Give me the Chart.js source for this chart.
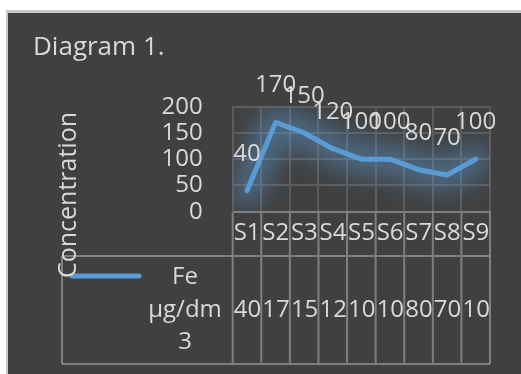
<!DOCTYPE html>
<html>
<head>
<meta charset="utf-8">
<script src="https://cdn.jsdelivr.net/npm/chart.js@4"></script>
<style>
  html, body { margin: 0; padding: 0; background: #ffffff; }
  #wrap { position: relative; width: 521px; height: 374px; }
</style>
</head>
<body>
<div id="wrap"><canvas id="chart" width="521" height="374"></canvas></div>
<script>
// Sample labels, measured Fe concentrations and axis ticks
const categories = ['S1', 'S2', 'S3', 'S4', 'S5', 'S6', 'S7', 'S8', 'S9'];
const feValues = [40, 170, 150, 120, 100, 100, 80, 70, 100];
const yTickValues = [0, 50, 100, 150, 200];
const seriesName = 'Fe µg/dm3';
const seriesLegendLines = ['Fe', 'µg/dm', '3'];
const chartTitle = 'Diagram 1.';
const yAxisTitle = 'Concentration';

const TEXT = '#d9d9d9';
const BG = '#404040';
const GRID = '#5c5c5c';
const TABLE_LINE = '#7f7f7f';
const BLUE = '#5b9bd5';
const FONT = 'Open Sans';

Chart.defaults.font.family = FONT;
Chart.defaults.color = TEXT;

// Page frame and dark panel behind the chart
const framePlugin = {
  id: 'frame',
  beforeDraw(chart) {
    const ctx = chart.ctx;
    ctx.save();
    ctx.fillStyle = '#ffffff';
    ctx.fillRect(0, 0, chart.width, chart.height);
    ctx.fillStyle = '#c8c8c8';
    ctx.fillRect(6, 10, chart.width - 6, chart.height - 10);
    ctx.fillStyle = BG;
    ctx.fillRect(8, 13, chart.width - 8, chart.height - 13);
    ctx.restore();
  }
};

// Soft blue glow under the line, traced through the dataset's own points,
// blurred off-screen and then kept inside the plot area
const glowPlugin = {
  id: 'glow',
  beforeDatasetsDraw(chart) {
    const ctx = chart.ctx;
    const a = chart.chartArea;
    const pts = chart.getDatasetMeta(0).data;
    const off = document.createElement('canvas');
    off.width = chart.width;
    off.height = chart.height;
    const g = off.getContext('2d');
    g.filter = 'blur(13px)';
    g.strokeStyle = 'rgba(91,155,213,0.5)';
    g.lineWidth = 30;
    g.lineCap = 'round';
    g.lineJoin = 'round';
    g.beginPath();
    pts.forEach((p, i) => (i ? g.lineTo(p.x, p.y) : g.moveTo(p.x, p.y)));
    g.stroke();
    ctx.save();
    ctx.beginPath();
    ctx.rect(a.left, a.top, a.right - a.left, a.bottom - a.top);
    ctx.clip();
    ctx.drawImage(off, 0, 0);
    ctx.restore();
  }
};

// Value labels above each point
const valueLabelPlugin = {
  id: 'valueLabels',
  afterDatasetsDraw(chart) {
    const ctx = chart.ctx;
    const meta = chart.getDatasetMeta(0);
    ctx.save();
    ctx.font = '24px "' + FONT + '"';
    ctx.fillStyle = TEXT;
    ctx.textAlign = 'center';
    ctx.textBaseline = 'middle';
    meta.data.forEach((pt, i) => {
      ctx.fillText(String(chart.data.datasets[0].data[i]), pt.x, pt.y - 37);
    });
    ctx.restore();
  }
};

// Data table under the plot, with the legend key in its first cell
const dataTablePlugin = {
  id: 'dataTable',
  afterDraw(chart) {
    const ctx = chart.ctx;
    const x = chart.scales.x;
    const area = chart.chartArea;
    const n = categories.length;
    const colW = x.getPixelForValue(1) - x.getPixelForValue(0);
    const edges = [];
    for (let i = 0; i <= n; i++) edges.push(x.getPixelForValue(0) - colW / 2 + i * colW);
    const top = area.bottom;
    const mid = 256;
    const bottom = 364;
    const legendLeft = 62;

    ctx.save();
    ctx.strokeStyle = TABLE_LINE;
    ctx.lineWidth = 2;
    ctx.beginPath();
    edges.forEach(e => { ctx.moveTo(e, top); ctx.lineTo(e, bottom); });
    ctx.moveTo(legendLeft, mid); ctx.lineTo(edges[n], mid);
    ctx.moveTo(legendLeft, bottom); ctx.lineTo(edges[n], bottom);
    ctx.moveTo(legendLeft, mid); ctx.lineTo(legendLeft, bottom);
    ctx.stroke();

    ctx.font = '24px "' + FONT + '"';
    ctx.fillStyle = TEXT;
    ctx.textBaseline = 'middle';
    ctx.textAlign = 'left';
    const values = chart.data.datasets[0].data;
    for (let i = 0; i < n; i++) {
      const l = edges[i] + 1, w = colW - 2;
      ctx.save();
      ctx.beginPath();
      ctx.rect(l, top, w, bottom - top);
      ctx.clip();
      ctx.fillText(chart.data.labels[i], l, 233);
      ctx.fillText(String(values[i]), l, 310);
      ctx.restore();
    }

    // legend key
    ctx.strokeStyle = BLUE;
    ctx.lineWidth = 5;
    ctx.lineCap = 'round';
    ctx.beginPath();
    ctx.moveTo(72, 276);
    ctx.lineTo(139, 276);
    ctx.stroke();
    ctx.textAlign = 'center';
    const ly = [277, 310, 342];
    seriesLegendLines.forEach((t, i) => ctx.fillText(t, 185, ly[i]));

    // vertical axis title
    ctx.translate(68.7, 195);
    ctx.rotate(-Math.PI / 2);
    ctx.font = '25px "' + FONT + '"';
    ctx.fillText(yAxisTitle, 0, 0);
    ctx.restore();
  }
};

new Chart(document.getElementById('chart'), {
  type: 'line',
  data: {
    labels: categories,
    datasets: [{
      label: seriesName,
      data: feValues,
      borderColor: BLUE,
      backgroundColor: BLUE,
      borderWidth: 5,
      borderCapStyle: 'round',
      borderJoinStyle: 'round',
      pointRadius: 0,
      tension: 0
    }]
  },
  options: {
    responsive: false,
    devicePixelRatio: 1,
    animation: false,
    layout: { padding: { left: 33, right: 31, top: 0, bottom: 0 } },
    plugins: {
      legend: { display: false },
      tooltip: { enabled: false },
      title: {
        display: true,
        text: chartTitle,
        align: 'start',
        color: TEXT,
        font: { family: FONT, size: 26, weight: 'normal', lineHeight: 1.2 },
        padding: { top: 32, bottom: 43.5 }
      }
    },
    scales: {
      x: {
        offset: true,
        grid: { offset: true, color: GRID, lineWidth: 2, drawTicks: false },
        border: { color: TABLE_LINE, width: 2 },
        ticks: { display: false },
        afterFit(scale) { scale.height = 374 - 211.7; }
      },
      y: {
        min: 0,
        max: 200,
        afterBuildTicks(scale) { scale.ticks = yTickValues.map(v => ({ value: v })); },
        grid: { color: GRID, lineWidth: 2, drawTicks: false },
        border: { color: GRID, width: 2 },
        ticks: {
          color: TEXT,
          padding: 30,
          autoSkip: false,
          font: { family: FONT, size: 24 }
        },
        afterFit(scale) { scale.width = 232.7 - 33; }
      }
    }
  },
  plugins: [framePlugin, glowPlugin, valueLabelPlugin, dataTablePlugin]
});
</script>
</body>
</html>
